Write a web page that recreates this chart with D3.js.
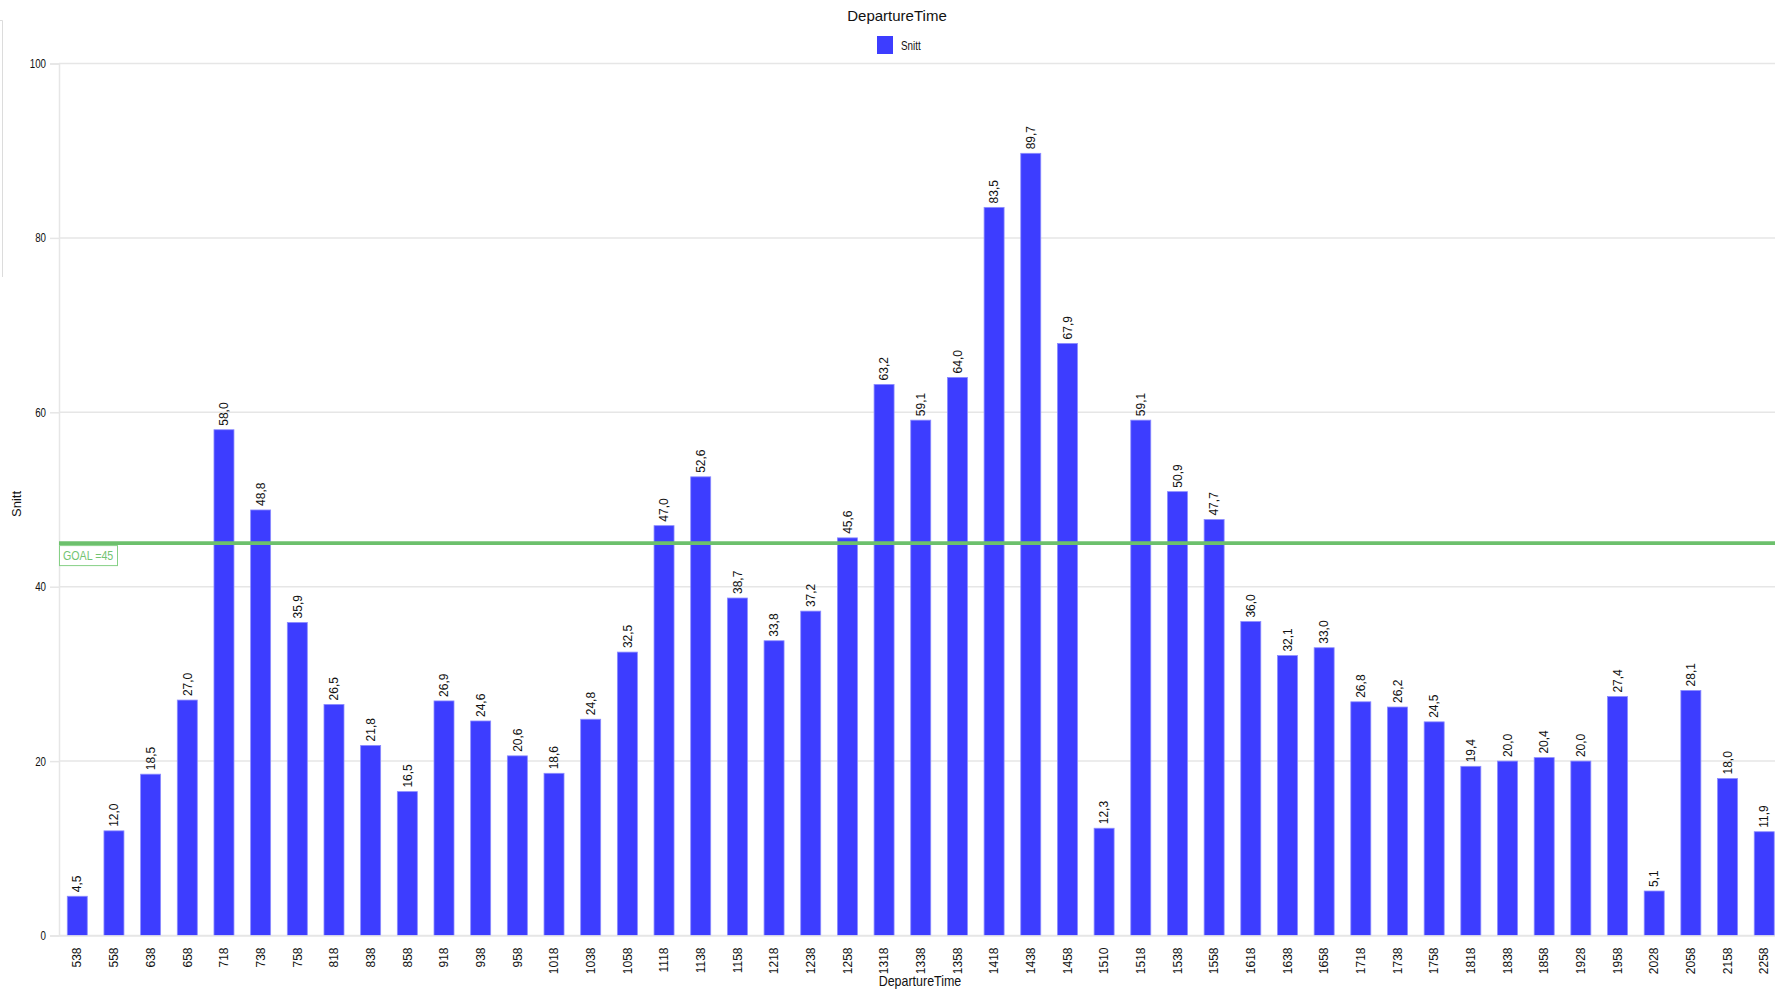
<!DOCTYPE html>
<html>
<head>
<meta charset="utf-8">
<script src="https://cdn.jsdelivr.net/npm/d3@7/dist/d3.min.js"></script>
<style>
    html, body { margin: 0; padding: 0; background: #fff; overflow: hidden; }
    svg { display: block; }
    text { font-family: "Liberation Sans", Arial, sans-serif; fill: #111; }
</style>
</head>
<body>
<script>
var departureTimes = ['538', '558', '638', '658', '718', '738', '758', '818', '838', '858',
    '918', '938', '958', '1018', '1038', '1058', '1118', '1138', '1158', '1218',
    '1238', '1258', '1318', '1338', '1358', '1418', '1438', '1458', '1510', '1518',
    '1538', '1558', '1618', '1638', '1658', '1718', '1738', '1758', '1818', '1838',
    '1858', '1928', '1958', '2028', '2058', '2158', '2258']
var snitt = [4.5, 12.0, 18.5, 27.0, 58.0, 48.8, 35.9, 26.5, 21.8, 16.5,
    26.9, 24.6, 20.6, 18.6, 24.8, 32.5, 47.0, 52.6, 38.7, 33.8,
    37.2, 45.6, 63.2, 59.1, 64.0, 83.5, 89.7, 67.9, 12.3, 59.1,
    50.9, 47.7, 36.0, 32.1, 33.0, 26.8, 26.2, 24.5, 19.4, 20.0,
    20.4, 20.0, 27.4, 5.1, 28.1, 18.0, 11.9]
var yTicks = [0, 20, 40, 60, 80, 100]
var goal = 45

var width = 1775, height = 991
// plot box (right edge runs a bit past the window, like the original)
var plotLeft = 59, plotRight = 1782.5, plotTop = 63.5, plotBottom = 935.5
var colorBar = '#3d3dff'
var colorBarEdge = '#8c8cff'
var colorGrid = '#e6e6e6'
var colorGoal = '#6cc06c'

var svg = d3.select('body').append('svg')
    .attr('width', width)
    .attr('height', height)

var x = d3.scaleBand()
    .domain(departureTimes)
    .range([plotLeft, plotRight])
    .paddingInner(0.455)
    .paddingOuter(0.226)

var y = d3.scaleLinear()
    .domain([0, 100])
    .range([plotBottom, plotTop])

var fmt = v => d3.format('.1f')(v).replace('.', ',')

// no narrow font installed, so squeeze the text instead
function narrow(sel, k) {
    sel.each(function() {
        var w = this.getComputedTextLength()
        d3.select(this)
            .attr('textLength', w * (k || 0.82))
            .attr('lengthAdjust', 'spacingAndGlyphs')
    })
}

// stray panel edge at far left
svg.append('path')
    .attr('d', 'M0,20.5H2.5V277')
    .attr('fill', 'none')
    .attr('stroke', '#dcdcdc')

// title + legend
svg.append('text')
    .attr('x', 897).attr('y', 21)
    .attr('text-anchor', 'middle')
    .style('font-size', '15px')
    .text('DepartureTime')

svg.append('rect')
    .attr('x', 877).attr('y', 36)
    .attr('width', 16).attr('height', 18)
    .attr('fill', colorBar)
svg.append('text')
    .attr('x', 901).attr('y', 50)
    .style('font-size', '12px')
    .text('Snitt')
    .call(narrow)

// grid
svg.append('g')
    .selectAll('line')
    .data(yTicks)
    .join('line')
    .attr('x1', plotLeft).attr('x2', width)
    .attr('y1', d => y(d)).attr('y2', d => y(d))
    .attr('stroke', colorGrid)
    .attr('stroke-width', 1.5)

// y axis
var yAxis = svg.append('g')
    .attr('transform', `translate(${plotLeft},0)`)
    .call(d3.axisLeft(y).tickValues(yTicks).tickSize(9).tickPadding(4))
yAxis.select('.domain').attr('stroke', colorGrid).attr('stroke-width', 1.5)
yAxis.selectAll('.tick line').attr('stroke', colorGrid).attr('stroke-width', 1.5)
yAxis.selectAll('.tick text')
    .attr('fill', '#111')
    .style('font-family', '"Liberation Sans", Arial, sans-serif')
    .style('font-size', '12.5px')
    .call(narrow, 0.78)

// bars
svg.append('g')
    .selectAll('rect')
    .data(snitt)
    .join('rect')
    .attr('x', (d, i) => x(departureTimes[i]))
    .attr('y', d => y(d))
    .attr('width', x.bandwidth())
    .attr('height', d => y(0) - y(d))
    .attr('fill', colorBar)
    .attr('stroke', colorBarEdge)
    .attr('stroke-width', 0.8)

// value labels
svg.append('g')
    .selectAll('text')
    .data(snitt)
    .join('text')
    .attr('transform', (d, i) => `translate(${x(departureTimes[i]) + x.bandwidth() / 2},${y(d) - 4}) rotate(-90)`)
    .attr('dy', '0.35em')
    .style('font-size', '12px')
    .text(d => fmt(d))

// goal line
svg.append('line')
    .attr('x1', plotLeft).attr('x2', width)
    .attr('y1', y(goal)).attr('y2', y(goal))
    .attr('stroke', colorGoal)
    .attr('stroke-width', 3.6)
svg.append('rect')
    .attr('x', plotLeft + 0.5).attr('y', y(goal) + 2.5)
    .attr('width', 58).attr('height', 20)
    .attr('fill', '#fff')
    .attr('stroke', '#86d086')
svg.append('text')
    .attr('x', plotLeft + 4).attr('y', y(goal) + 16.5)
    .style('font-size', '13px')
    .style('fill', '#72c472')
    .text('GOAL =' + goal)
    .call(narrow)

// x axis
var xAxis = svg.append('g')
    .attr('transform', `translate(0,${plotBottom})`)
    .call(d3.axisBottom(x).tickSize(0).tickPadding(0))
xAxis.select('.domain').attr('stroke', colorGrid).attr('stroke-width', 1.5)
xAxis.selectAll('.tick text')
    .attr('transform', 'translate(0,12) rotate(-90)')
    .attr('text-anchor', 'end')
    .attr('dy', '0.35em')
    .attr('y', 0)
    .attr('fill', '#111')
    .style('font-family', '"Liberation Sans", Arial, sans-serif')
    .style('font-size', '12px')

// axis titles
svg.append('text')
    .attr('x', 920).attr('y', 986)
    .attr('text-anchor', 'middle')
    .style('font-size', '15px')
    .text('DepartureTime')
    .call(narrow, 0.83)

svg.append('text')
    .attr('transform', 'translate(21,504) rotate(-90)')
    .attr('text-anchor', 'middle')
    .style('font-size', '13px')
    .text('Snitt')
</script>
</body>
</html>
